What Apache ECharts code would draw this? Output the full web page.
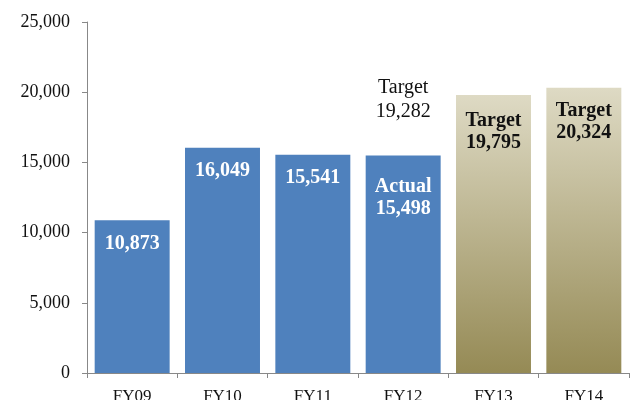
<!DOCTYPE html>
<html>
<head>
    <meta charset="UTF-8"/>
    <script src="https://cdn.jsdelivr.net/npm/echarts@6/dist/echarts.min.js"></script>
    <title>FY Chart</title>
    <style>
        html, body { margin: 0; padding: 0; background: #fff; }
        #chart { width: 631px; height: 400px; }
    </style>
</head>
<body>
<div id="chart"></div>

<script type="text/javascript">
    var categories = ['FY09', 'FY10', 'FY11', 'FY12', 'FY13', 'FY14'];
    var values = [10873, 16049, 15541, 15498, 19795, 20324];
    var labelPrefix = ['', '', '', 'Actual', 'Target', 'Target'];
    var isTarget = [false, false, false, false, true, true];
    var fy12Target = 19282;

    function fmt(v) {
        return String(v).replace(/\B(?=(\d{3})+(?!\d))/g, ',');
    }

    var blue = '#4f81bd';
    var tan = new echarts.graphic.LinearGradient(0, 0, 0, 1, [
        {offset: 0, color: '#dedac4'},
        {offset: 1, color: '#958a55'}
    ]);
    var distances = [12, 12, 12, 20, 15, 12];

    var barData = values.map(function (v, i) {
        return {
            value: v,
            itemStyle: {color: isTarget[i] ? tan : blue},
            label: {
                color: isTarget[i] ? '#111' : '#fff',
                distance: distances[i]
            }
        };
    });

    // FY12 target marker (label only)
    var targetData = categories.map(function (c, i) {
        return i === 3 ? fy12Target : '-';
    });

    var myChart = echarts.init(document.getElementById('chart'));
    var option = {
        animation: false,
        textStyle: {fontFamily: 'Liberation Serif'},
        grid: {left: 87, right: 2, top: 22, bottom: 27, outerBoundsMode: 'none', containLabel: false},
        xAxis: {
            type: 'category',
            data: categories,
            axisLine: {lineStyle: {color: '#888', width: 1}},
            axisTick: {show: true, length: 5, lineStyle: {color: '#888'}},
            axisLabel: {color: '#111', fontSize: 17, margin: 15, fontFamily: 'Liberation Serif'}
        },
        yAxis: {
            type: 'value',
            min: 0,
            max: 25000,
            interval: 5000,
            splitLine: {show: false},
            axisLine: {show: true, lineStyle: {color: '#888', width: 1}},
            axisTick: {show: true, length: 5, lineStyle: {color: '#888'}},
            axisLabel: {
                color: '#111', fontSize: 18, margin: 17, fontFamily: 'Liberation Serif',
                formatter: function (v) { return fmt(v); }
            }
        },
        series: [
            {
                type: 'bar',
                data: barData,
                barCategoryGap: '17%',
                label: {
                    show: true,
                    position: 'insideTop',
                    fontSize: 20,
                    fontWeight: 'bold',
                    lineHeight: 22,
                    fontFamily: 'Liberation Serif',
                    formatter: function (p) {
                        var pre = labelPrefix[p.dataIndex];
                        return pre ? pre + '\n' + fmt(p.value) : fmt(p.value);
                    }
                }
            },
            {
                type: 'scatter',
                data: targetData,
                symbolSize: 0,
                silent: true,
                itemStyle: {opacity: 1},
                label: {
                    show: true,
                    position: 'inside',
                    offset: [0, -3],
                    color: '#111',
                    fontSize: 20,
                    lineHeight: 24,
                    fontFamily: 'Liberation Serif',
                    formatter: function (p) {
                        return 'Target\n' + fmt(p.value);
                    }
                }
            }
        ]
    };
    myChart.setOption(option);
</script>
</body>
</html>
